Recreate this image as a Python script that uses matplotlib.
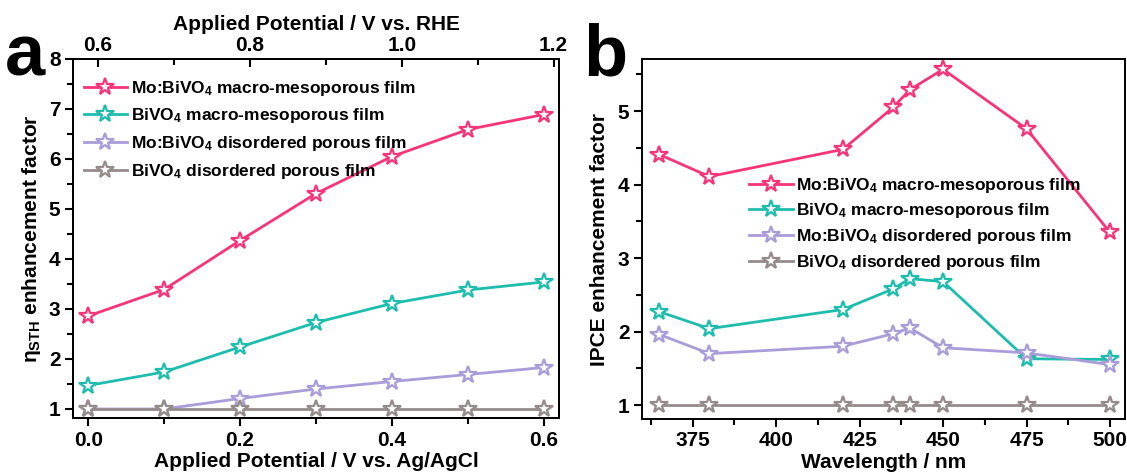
import matplotlib
matplotlib.use("Agg")
import matplotlib.pyplot as plt
from matplotlib.ticker import MultipleLocator, FixedLocator, FormatStrFormatter

plt.rcParams['font.family'] = ['Liberation Sans', 'DejaVu Sans']
plt.rcParams['font.weight'] = 'bold'
plt.rcParams['mathtext.default'] = 'regular'

# ---------------- data ----------------
potential_agcl = [0.0, 0.1, 0.2, 0.3, 0.4, 0.5, 0.6]
sth_mo_macro = [2.86, 3.39, 4.37, 5.31, 6.05, 6.59, 6.89]
sth_bi_macro = [1.47, 1.74, 2.24, 2.73, 3.11, 3.38, 3.54]
sth_mo_dis = [1.00, 1.00, 1.21, 1.40, 1.55, 1.69, 1.83]
sth_bi_dis = [1.00, 1.00, 1.00, 1.00, 1.00, 1.00, 1.00]

wavelength = [365, 380, 420, 435, 440, 450, 475, 500]
ipce_mo_macro = [4.41, 4.11, 4.48, 5.05, 5.29, 5.57, 4.76, 3.35]
ipce_bi_macro = [2.27, 2.04, 2.30, 2.58, 2.72, 2.68, 1.63, 1.62]
ipce_mo_dis = [1.96, 1.70, 1.80, 1.97, 2.05, 1.78, 1.71, 1.55]
ipce_bi_dis = [1.00, 1.00, 1.00, 1.00, 1.00, 1.00, 1.00, 1.00]

labels = ['Mo:BiVO$_4$ macro-mesoporous film',
          'BiVO$_4$ macro-mesoporous film',
          'Mo:BiVO$_4$ disordered porous film',
          'BiVO$_4$ disordered porous film']
colors = ['#F7337A', '#1DBDAE', '#A99CD9', '#958B8A']

rhe_offset = 0.587
rhe_ticks = [0.6, 0.8, 1.0, 1.2]
rhe_minor = [0.7, 0.9, 1.1]

W, H = 1127, 476
fig = plt.figure(figsize=(W / 100, H / 100), dpi=100)

def frac(l, r, t, b):
    return [l / W, 1 - b / H, (r - l) / W, (b - t) / H]

axa = fig.add_axes(frac(73, 559, 59, 418))
axb = fig.add_axes(frac(642, 1125, 59, 419))

fs = 15
lw_sp = 1.4

def style_line(ax, x, ys):
    for y, c, lab in zip(ys, colors, labels):
        ax.plot(x, y, color=c, lw=2.0, marker='*', ms=13, mfc='white',
                mec=c, mew=1.6, label=lab)

style_line(axa, potential_agcl, [sth_mo_macro, sth_bi_macro, sth_mo_dis, sth_bi_dis])
style_line(axb, wavelength, [ipce_mo_macro, ipce_bi_macro, ipce_mo_dis, ipce_bi_dis])

# ---- panel a ----
axa.set_xlim(-0.02, 0.62)
axa.set_ylim(0.82, 8.0)
axa.xaxis.set_major_locator(MultipleLocator(0.2))
axa.xaxis.set_minor_locator(MultipleLocator(0.1))
axa.yaxis.set_major_locator(MultipleLocator(1))
axa.yaxis.set_minor_locator(MultipleLocator(0.5))
axa.xaxis.set_major_formatter(FormatStrFormatter('%.1f'))
axa.set_xlabel('Applied Potential / V vs. Ag/AgCl', fontsize=fs, fontweight='bold', labelpad=2)
axa.set_ylabel('η$_{STH}$ enhancement factor', fontsize=fs, fontweight='bold', labelpad=4)

top = axa.twiny()
top.set_xlim(axa.get_xlim())
top.xaxis.set_major_locator(FixedLocator([v - rhe_offset for v in rhe_ticks]))
top.xaxis.set_minor_locator(FixedLocator([v - rhe_offset for v in rhe_minor]))
top.set_xticklabels(['%.1f' % v for v in rhe_ticks])
top.set_xlabel('Applied Potential / V vs. RHE', fontsize=fs, fontweight='bold', labelpad=4)
top.tick_params(axis='x', which='major', direction='in', length=6, width=1.5,
                labelsize=fs, pad=3)
top.tick_params(axis='x', which='minor', direction='in', length=4, width=1.5)

# ---- panel b ----
axb.set_xlim(359.8, 504.5)
axb.set_ylim(0.81, 5.71)
axb.xaxis.set_major_locator(MultipleLocator(25))
axb.xaxis.set_minor_locator(MultipleLocator(12.5))
axb.yaxis.set_major_locator(MultipleLocator(1))
axb.yaxis.set_minor_locator(MultipleLocator(0.5))
axb.set_xlabel('Wavelength / nm', fontsize=fs, fontweight='bold', labelpad=2)
axb.set_ylabel('IPCE enhancement factor', fontsize=fs, fontweight='bold', labelpad=6)

for ax in (axa, axb):
    ax.tick_params(axis='both', which='major', direction='out', length=6, width=1.5,
                   labelsize=fs, pad=3, top=False, right=False)
    ax.tick_params(axis='both', which='minor', direction='out', length=4, width=1.5,
                   top=False, right=False)
    for lab in ax.get_xticklabels() + ax.get_yticklabels():
        lab.set_fontweight('bold')
for ax in (axa, axb, top):
    for s in ax.spines.values():
        s.set_linewidth(lw_sp)
for lab in top.get_xticklabels():
    lab.set_fontweight('bold')

leg_common = dict(frameon=False, handlelength=2.5, handletextpad=0.2,
                  borderpad=0.2, borderaxespad=0.0,
                  prop={'weight': 'bold', 'size': 12.5})
axa.legend(loc='upper left', bbox_to_anchor=(0.015, 0.955), labelspacing=0.5, **leg_common)
axb.legend(loc='upper left', bbox_to_anchor=(0.215, 0.685), labelspacing=0.38, **leg_common)

fig.text(5 / W, 1 - 76 / H, 'a', fontsize=52, fontweight='bold', va='baseline', ha='left')
fig.text(583 / W, 1 - 76 / H, 'b', fontsize=52, fontweight='bold', va='baseline', ha='left')

fig.savefig('out.png', dpi=100)
